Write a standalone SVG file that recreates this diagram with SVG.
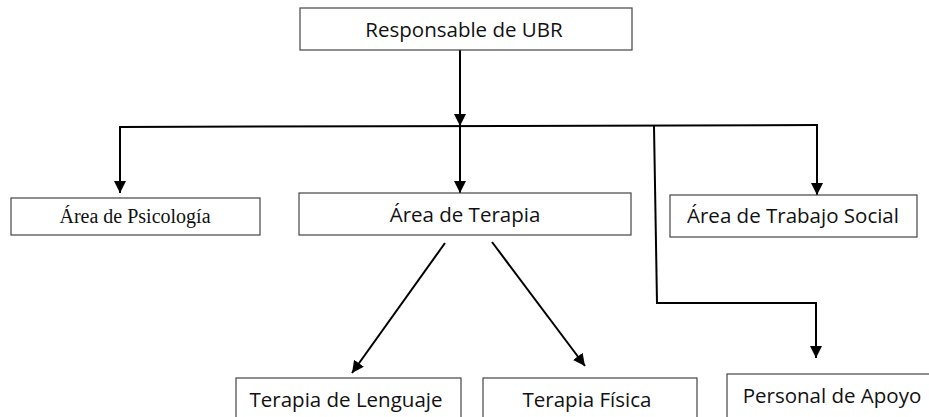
<svg xmlns="http://www.w3.org/2000/svg" width="929" height="417" viewBox="0 0 929 417">
<style>
.box{fill:#fff;stroke:#444;stroke-width:1.2}
.t{font-family:"Open Sans","Noto Sans",sans-serif;font-size:20.5px;fill:#111;text-anchor:middle}
.s{font-family:"Liberation Serif",serif;font-size:20px;fill:#111;text-anchor:middle}
.c{fill:none;stroke:#000;stroke-width:2}
</style>
<defs>
<marker id="ah" viewBox="0 0 10 10" refX="10" refY="5" markerWidth="6" markerHeight="6" markerUnits="strokeWidth" orient="auto">
<path d="M0,0 L10,5 L0,10 z" fill="#000"/>
</marker>
</defs>
<g id="connectors">
<line class="c" x1="460" y1="50" x2="460" y2="126" marker-end="url(#ah)"/>
<line class="c" x1="119" y1="127" x2="818" y2="125"/>
<line class="c" x1="120" y1="127" x2="120" y2="193" marker-end="url(#ah)"/>
<line class="c" x1="460" y1="126" x2="460" y2="193" marker-end="url(#ah)"/>
<line class="c" x1="817" y1="125" x2="817" y2="195" marker-end="url(#ah)"/>
<polyline class="c" points="654,126 657,303 816,303 816,358" marker-end="url(#ah)"/>
<line class="c" x1="445" y1="243" x2="352" y2="373" marker-end="url(#ah)"/>
<line class="c" x1="492" y1="242" x2="585" y2="366" marker-end="url(#ah)"/>
</g>
<g id="responsable"><rect class="box" x="300" y="8" width="332" height="42"/><text class="t" x="464" y="37">Responsable de UBR</text></g>
<g id="psicologia"><rect class="box" x="11" y="198" width="249" height="37"/><text class="s" x="135" y="223">Área de Psicología</text></g>
<g id="terapia"><rect class="box" x="299" y="193" width="332" height="42"/><text class="t" x="465" y="222">Área de Terapia</text></g>
<g id="trabajo-social"><rect class="box" x="670" y="195" width="247" height="42"/><text class="t" x="793" y="223">Área de Trabajo Social</text></g>
<g id="lenguaje"><rect class="box" x="236" y="378" width="225" height="50"/><text class="t" x="346" y="407">Terapia de Lenguaje</text></g>
<g id="fisica"><rect class="box" x="483" y="378" width="214" height="50"/><text class="t" x="587" y="407">Terapia Física</text></g>
<g id="apoyo"><rect class="box" x="727" y="374" width="210" height="54"/><text class="t" x="832" y="403">Personal de Apoyo</text></g>
</svg>
